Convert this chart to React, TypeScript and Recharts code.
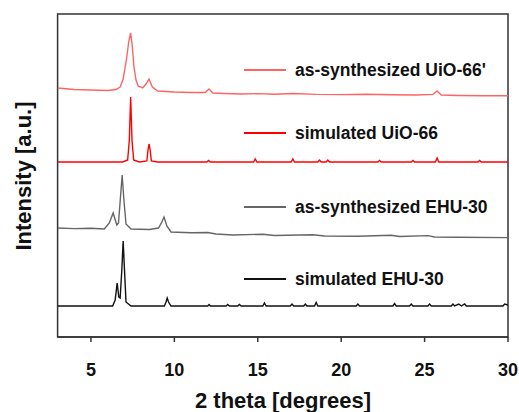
import { LineChart, Line, XAxis, YAxis, Legend, Label, ReferenceArea } from 'recharts'

const FONT = '"Liberation Sans", Arial, Helvetica, sans-serif'
const AXIS = '#333333'

// 2 theta ticks
const xTicks = [5, 10, 15, 20, 25, 30]

const seriesNames = [
  "as-synthesized UiO-66'",
  'simulated UiO-66',
  'as-synthesized EHU-30',
  'simulated EHU-30',
]
const seriesColors = ['#ff6464', '#ff0000', '#666666', '#111111']

// [2theta, stacked intensity]
const asSynthUiO: [number, number][] = [
  [3.0, 249], [4.0, 247.5], [5.0, 247], [6.0, 246.5], [6.5, 247.5], [6.75, 250],
  [6.93, 258], [7.14, 279], [7.27, 296], [7.38, 304], [7.47, 292], [7.58, 270],
  [7.7, 257], [7.83, 251], [8.1, 249], [8.3, 253], [8.48, 258], [8.68, 250],
  [9.0, 246], [10.0, 245],
  [11.0, 244.5], [11.85, 244.5], [12.08, 248], [12.3, 244], [13.0, 243.5],
  [14.0, 243], [15.0, 243.4], [16.0, 242.8], [17.1, 243.5], [18.5, 242.6],
  [20.0, 242.4], [21.5, 242.8], [23.0, 242.2], [24.5, 242], [25.5, 242.6],
  [25.75, 246], [26.0, 242], [27.0, 241.5], [28.5, 241.3], [30.0, 241.2],
]

const simUiO: [number, number][] = [
  [3, 175], [6.9, 175], [7.2, 177], [7.3, 197], [7.38, 240], [7.46, 197],
  [7.56, 177], [7.9, 175], [8.35, 176], [8.42, 187], [8.48, 193], [8.55, 187],
  [8.62, 176], [9, 175], [11.95, 175], [12.05, 176.5], [12.15, 175],
  [14.75, 175], [14.85, 178], [14.95, 175], [17.0, 175], [17.1, 178],
  [17.2, 175], [18.6, 175], [18.7, 177], [18.8, 175], [19.1, 175], [19.2, 177],
  [19.3, 175], [22.2, 175], [22.3, 176.5], [22.4, 175], [24.2, 175],
  [24.3, 176.5], [24.4, 175], [25.65, 175], [25.75, 179], [25.85, 175],
  [28.2, 175], [28.3, 176.5], [28.4, 175], [30, 175],
]

const asSynthEHU: [number, number][] = [
  [3, 109], [4, 108.4], [5, 108.8], [5.8, 108], [6.1, 114], [6.33, 124],
  [6.55, 112], [6.65, 114], [6.77, 140], [6.87, 162], [6.97, 138], [7.1, 113],
  [7.4, 108], [8.5, 107.5], [9.05, 109], [9.25, 115], [9.38, 120], [9.55, 111],
  [9.8, 105], [11, 104.2], [12.0, 104.5], [12.5, 103], [13.5, 102],
  [15.3, 102.8], [16, 101.5], [18.3, 102.2], [19, 101], [21, 100.8],
  [23, 101.8], [23.5, 100.5], [25.2, 101.4], [25.6, 100], [27, 99.8],
  [30, 99.4],
]

const simEHU: [number, number][] = [
  [3, 31], [6.3, 31], [6.45, 37], [6.57, 54], [6.67, 40], [6.75, 39],
  [6.85, 67], [6.93, 96], [7.01, 67], [7.1, 35], [7.4, 31], [9.4, 31],
  [9.5, 35], [9.57, 39], [9.65, 35], [9.8, 31], [12.0, 31], [12.08, 32.5],
  [12.16, 31], [13.1, 31], [13.2, 32.5], [13.3, 31], [13.8, 31], [13.9, 32.5],
  [14.0, 31], [15.3, 31], [15.4, 34], [15.5, 31], [16.95, 31], [17.05, 33],
  [17.15, 31], [17.75, 31], [17.85, 33], [17.95, 31], [18.4, 31], [18.5, 34.5],
  [18.6, 31], [20.9, 31], [21.0, 33], [21.1, 31], [23.1, 31], [23.2, 33.5],
  [23.3, 31], [24.1, 31], [24.2, 33], [24.3, 31], [25.2, 31], [25.3, 33],
  [25.4, 31], [26.6, 31], [26.7, 33], [26.8, 31], [27.05, 33], [27.2, 31],
  [27.4, 33], [27.5, 31], [29.7, 31], [29.8, 33], [30, 32],
]

const patterns = [asSynthUiO, simUiO, asSynthEHU, simEHU]

// vertical centre of each legend row, by name
const legendRowY: Record<string, number> = {
  [seriesNames[0]]: 70,
  [seriesNames[1]]: 133,
  [seriesNames[2]]: 207,
  [seriesNames[3]]: 279,
}

function StackLegend({ payload }: any) {
  return (
    <div style={{ position: 'relative', width: 270, height: 300 }}>
      {(payload || []).map((entry: any) => (
        <div
          key={entry.value}
          style={{
            position: 'absolute',
            left: 0,
            top: legendRowY[entry.value] - 12,
            height: 24,
            display: 'flex',
            alignItems: 'center',
            whiteSpace: 'nowrap',
          }}
        >
          <span style={{ display: 'inline-block', width: 42, height: 2, background: entry.color, marginRight: 9 }} />
          <span style={{ fontFamily: FONT, fontWeight: 'bold', fontSize: 17.5, color: '#111' }}>{entry.value}</span>
        </div>
      ))}
    </div>
  )
}

export default function App() {
  return (
    <div style={{ position: 'absolute', left: 0, top: 0, background: '#fff' }}>
      <LineChart
        width={519}
        height={412}
        margin={{ top: 14, right: 11, left: 57.6, bottom: 0 }}
        style={{ fontFamily: FONT }}
      >
        <XAxis
          xAxisId="b"
          dataKey="x"
          type="number"
          domain={[3, 30]}
          ticks={xTicks}
          allowDataOverflow
          height={75}
          tickSize={5}
          tickMargin={21}
          stroke={AXIS}
          strokeWidth={1.5}
          tick={{ fontSize: 18, fontWeight: 'bold', fill: '#111', fontFamily: FONT }}
        >
          <Label
            content={() => (
              <text x={283} y={408} textAnchor="middle" fontFamily={FONT} fontWeight="bold" fontSize={22} fill="#111">
                2 theta [degrees]
              </text>
            )}
          />
          <Label
            content={() => (
              <text
                x={23}
                y={176}
                transform="rotate(-90 23 176)"
                textAnchor="middle"
                dominantBaseline="central"
                fontFamily={FONT}
                fontWeight="bold"
                fontSize={22}
                fill="#111"
              >
                Intensity [a.u.]
              </text>
            )}
          />
        </XAxis>
        <YAxis yAxisId="l" type="number" domain={[0, 323]} allowDataOverflow hide />
        <ReferenceArea
          xAxisId="b"
          yAxisId="l"
          x1={3}
          x2={30}
          y1={0}
          y2={323}
          fill="none"
          fillOpacity={0}
          stroke={AXIS}
          strokeWidth={1.5}
          ifOverflow="visible"
        />
        {patterns.map((pts, i) => (
          <Line
            key={seriesNames[i]}
            xAxisId="b"
            yAxisId="l"
            data={pts.map(([x, y]) => ({ x, y }))}
            dataKey="y"
            name={seriesNames[i]}
            type="linear"
            stroke={seriesColors[i]}
            strokeWidth={1.4}
            dot={false}
            activeDot={false}
            isAnimationActive={false}
          />
        ))}
        <Legend
          layout="vertical"
          align="center"
          verticalAlign="middle"
          content={<StackLegend />}
          wrapperStyle={{ left: 244, top: 0, width: 270, height: 300 }}
        />
      </LineChart>
    </div>
  )
}
